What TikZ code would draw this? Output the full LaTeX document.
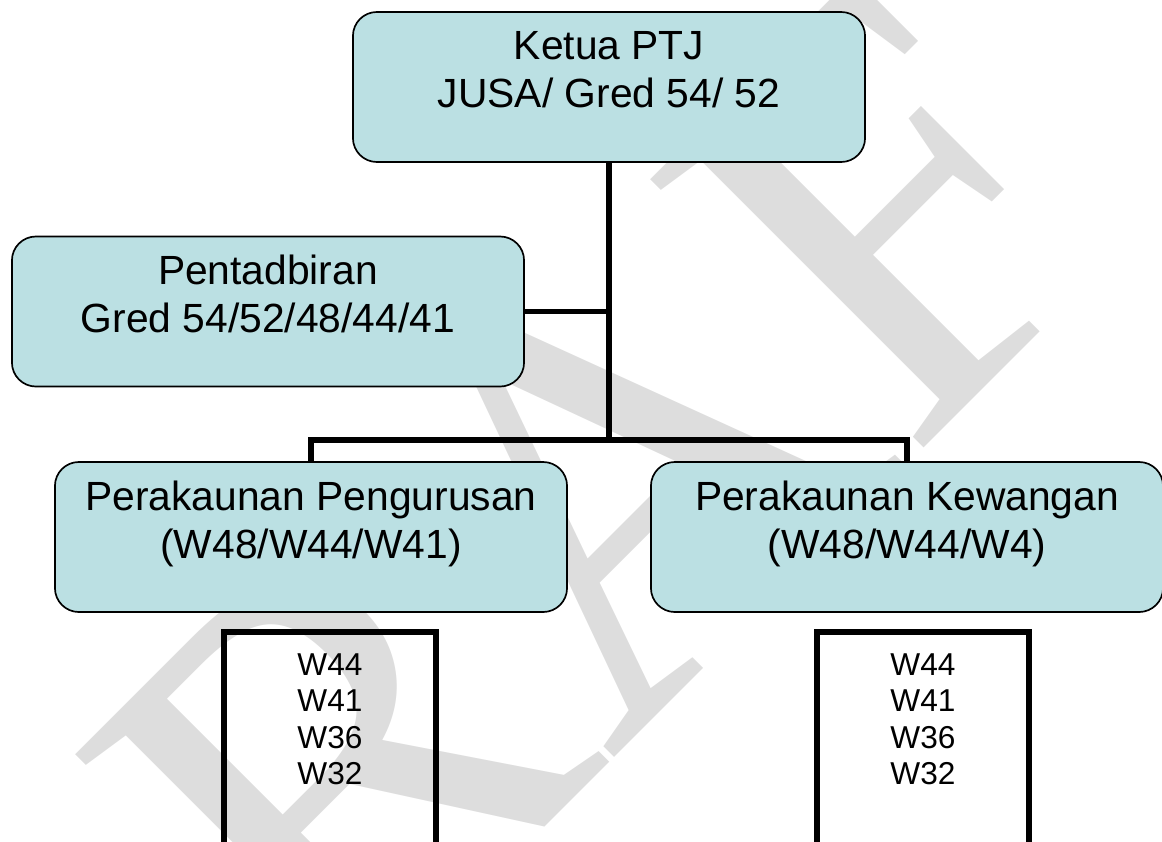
\documentclass[tikz,border=0pt]{standalone}
\usepackage{fontspec}
\setmainfont{Liberation Sans}
\newfontfamily\tandafont{Liberation Serif}
\usetikzlibrary{positioning}
\definecolor{kotakbiru}{RGB}{187,224,227}
\definecolor{tandaair}{RGB}{221,221,221}

\begin{document}
\begin{tikzpicture}[x=0.025cm,y=-0.025cm,
	kotak/.style={draw, line width=1.2pt, rounded corners=0.6cm, fill=kotakbiru,
		minimum width=12.8cm, minimum height=3.75cm, align=center,
		font=\fontsize{29}{34}\selectfont,
		execute at end node={\rule[-8.7mm]{0pt}{0pt}}},
	senarai/.style={draw, line width=3.8pt, outer sep=0pt, anchor=north,
		minimum width=5.3cm, minimum height=7.5cm},
	gred/.style={align=center, inner sep=0pt, font=\fontsize{22.5}{26}\selectfont},
	garis/.style={line width=3.8pt},
	tanda/.style={text=tandaair, inner sep=0pt, rotate=45, anchor=base west,
		font=\tandafont\fontsize{416}{416}\selectfont}]
			\useasboundingbox (0,0) rectangle (1162,841);
			\clip (0,0) rectangle (1162,841);
			%Tanda air
			\node[tanda] (DR) at (36,1336) {DRAF};
			%Kotak carta
			\node[kotak] (K0) at (609,87) {Ketua PTJ\\JUSA/ Gred 54/ 52};
			\node[kotak] (P1) at (268,311.5) {Pentadbiran\\Gred 54/52/48/44/41};
			\node[kotak] (PP) at (311,537) {Perakaunan Pengurusan\\(W48/W44/W41)};
			\node[kotak] (PK) at (907,537) {Perakaunan Kewangan\\(W48/W44/W4)};
			\node[senarai] (WP) at (330,632) {};
			\node[senarai] (WK) at (923,632) {};
			\node[gred, below=0.525cm of WP.north] (WP1) {W44\\W41\\W36\\W32};
			\node[gred, below=0.525cm of WK.north] (WK1) {W44\\W41\\W36\\W32};
			%Garis penghubung
			\coordinate (J) at (609,440);
			\draw[garis] (K0.south) -- (J);
			\draw[garis] (P1.east) -- (P1.east -| J);
			\draw[garis] (PP.north) |- (J) -| (PK.north);
		\end{tikzpicture}
\end{document}
